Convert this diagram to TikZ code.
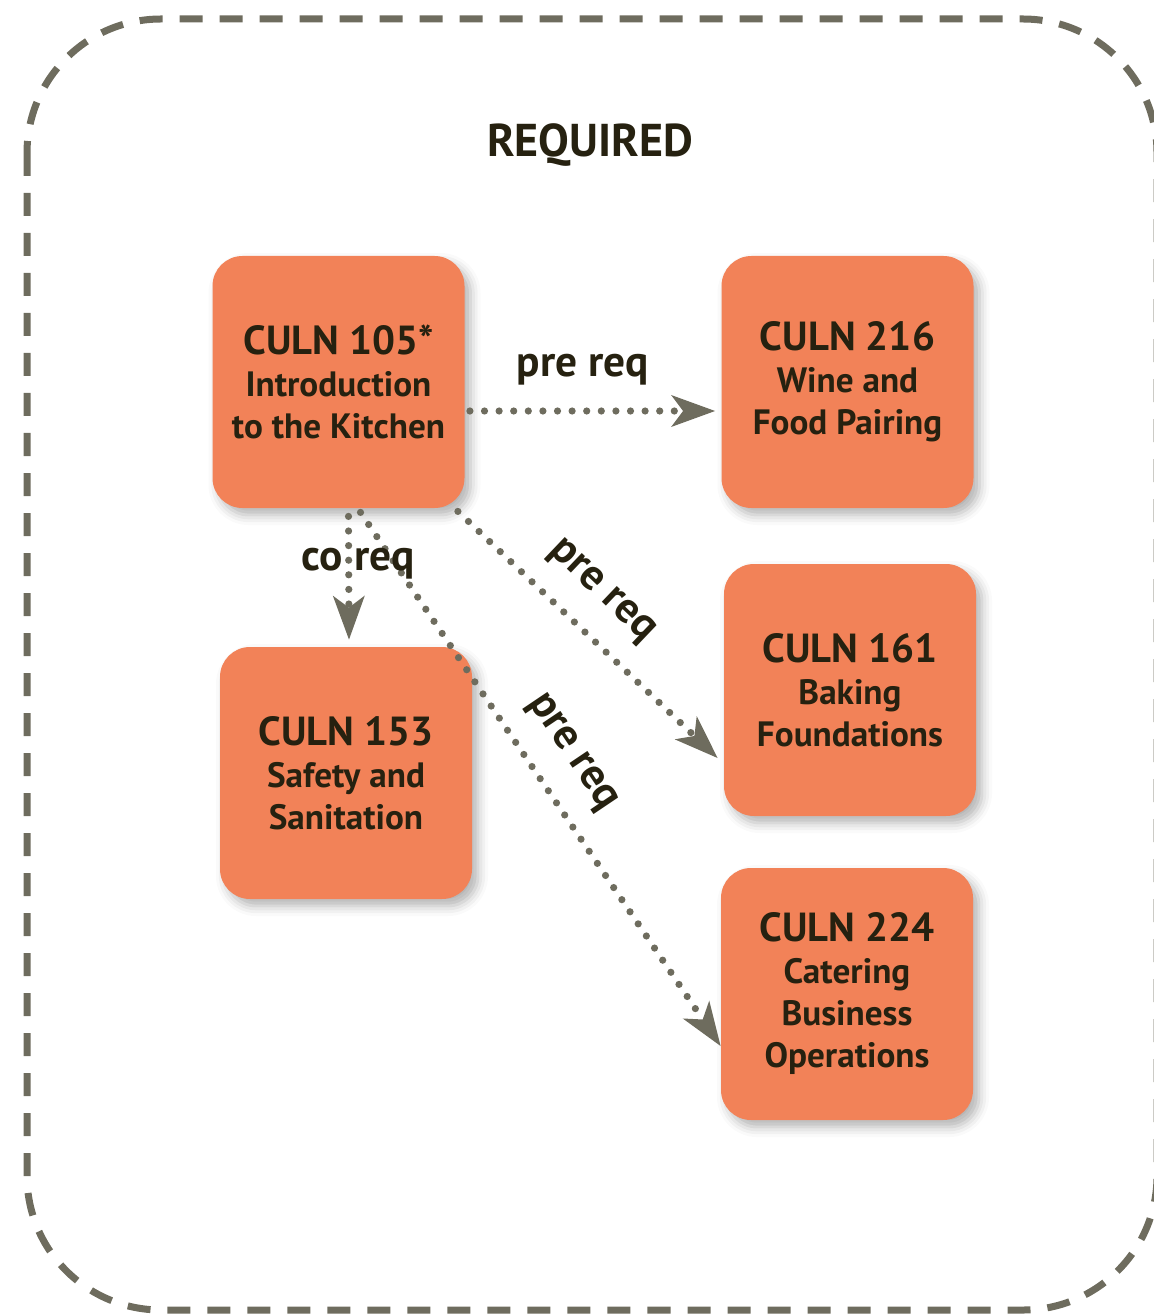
\documentclass[tikz,border=0pt]{standalone}
\usepackage{fontspec}
\setmainfont{PT Sans}
\usetikzlibrary{arrows.meta,shadows.blur,calc}
\definecolor{boxorange}{RGB}{242,130,88}
\definecolor{linegray}{RGB}{110,108,94}
\definecolor{inkdark}{RGB}{38,33,16}
\begin{document}
\begin{tikzpicture}[x=0.5pt,y=-0.5pt,
  course/.style={fill=boxorange, rounded corners=15pt, minimum width=126pt, minimum height=126pt,
    inner sep=0pt, align=center, text=inkdark, font=\bfseries\fontsize{17.6}{21}\selectfont,
    blur shadow={shadow xshift=3pt, shadow yshift=-3.5pt, shadow blur radius=5pt, shadow opacity=30}},
  link/.style={draw=linegray, line width=3.6pt, line cap=round, dash pattern=on 0pt off 7.3pt,
    -{Stealth[length=22pt,width=16pt,inset=6pt,line width=0pt,fill=linegray]}},
  lbl/.style={text=inkdark, font=\bfseries\fontsize{21.7}{24}\selectfont, inner sep=0pt}]
\useasboundingbox (0,0) rectangle (1154,1315);
\draw[linegray, line width=3.5pt, dash pattern=on 11.5pt off 8.5pt, rounded corners=67pt]
  (27,19) rectangle (1157,1310);
\node[lbl, font=\bfseries\fontsize{23}{26}\selectfont] (title) at (590,145) {REQUIRED};
\coordinate (Ac) at (338.5,382);
\coordinate (Bc) at (847.5,382);
\coordinate (Cc) at (850,690);
\coordinate (Dc) at (346,773);
\coordinate (Ec) at (847,994);
\node[course] (A) at (Ac) {{\fontsize{20.3}{20}\selectfont CULN 105*}\\Introduction\\to the Kitchen};
\node[course] (B) at (Bc) {{\fontsize{20.3}{20}\selectfont CULN 216}\\Wine and\\Food Pairing};
\node[course] (C) at (Cc) {{\fontsize{20.3}{20}\selectfont CULN 161}\\Baking\\Foundations};
\node[course] (D) at (Dc) {{\fontsize{20.3}{20}\selectfont CULN 153}\\Safety and\\Sanitation};
\node[course] (E) at (Ec) {{\fontsize{20.3}{20}\selectfont CULN 224}\\Catering\\Business\\Operations};
\draw[link] ($(A.east)+(5,29)$) -- ($(B.west)+(-6,29)$);
\draw[link] ($(A.south)+(10,8)$) -- ($(D.north)+(3,-7)$);
\draw[link] ($(A.south east)+(-7,3)$) -- ($(C.west)+(-6,68)$);
\draw[link] ($(A.south)+(22,4)$) -- ($(E.west)+(0,52)$);
\node[lbl] (l1) at (583,370) {pre req};
\node[lbl] (l2) at (358,564) {co req};
\node[lbl, rotate=-43.6] (l3) at (601,592) {pre req};
\node[lbl, rotate=-56] (l4) at (571,753) {pre req};
\end{tikzpicture}
\end{document}
